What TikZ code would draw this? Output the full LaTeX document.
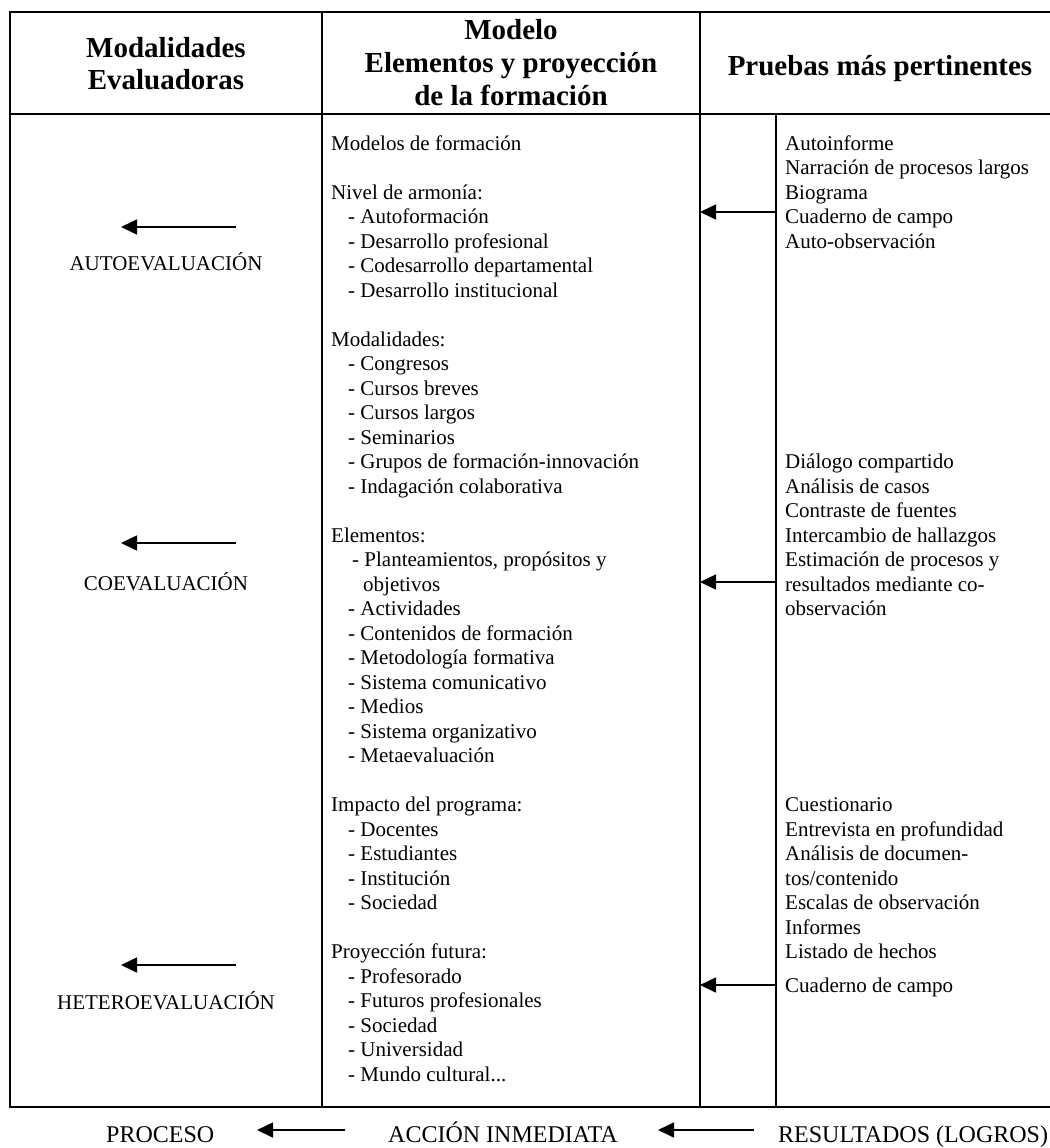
\documentclass[tikz,border=0pt]{standalone}
\usepackage{fontspec}
\setmainfont{Liberation Serif}
\usetikzlibrary{arrows.meta}
\begin{document}
\begin{tikzpicture}[x=1pt,y=-1pt]
\tikzset{
 tbl/.style={line width=2pt, line cap=rect},
 arr/.style={line width=1.6pt, -{Triangle[length=16pt,width=15pt]}},
 body/.style={font=\fontsize{21}{24.5}\selectfont, inner sep=0pt, anchor=base west},
 lbl/.style={font=\fontsize{21}{24.5}\selectfont, inner sep=0pt, anchor=base},
 hdr/.style={font=\fontsize{29}{32}\selectfont\bfseries, inner sep=0pt, anchor=base},
 foot/.style={font=\fontsize{24}{28}\selectfont, inner sep=0pt, anchor=base west}
}
\useasboundingbox (0,0) rectangle (1049,1148);
\fill[white] (0,0) rectangle (1049,1148);

% table lines
\draw[tbl] (10,12) -- (1049,12);
\draw[tbl] (10,114) -- (1049,114);
\draw[tbl] (10,1107) -- (1049,1107);
\draw[tbl] (10,12) -- (10,1107);
\draw[tbl] (322,12) -- (322,1107);
\draw[tbl] (700,12) -- (700,1107);
\draw[tbl] (776,114) -- (776,1107);

% headers
\node[hdr] (h1a) at (166,57) {Modalidades};
\node[hdr] (h1b) at (166,89) {Evaluadoras};
\node[hdr] (h2a) at (511,40) {Modelo};
\node[hdr] (h2b) at (511,72) {Elementos y proyección};
\node[hdr] (h2c) at (511,105) {de la formación};
\node[hdr] (h3a) at (880,75) {Pruebas más pertinentes};

% left column
\node[lbl] (auto) at (166,270) {AUTOEVALUACIÓN};
\node[lbl] (coev) at (166,590) {COEVALUACIÓN};
\node[lbl] (hetero) at (166,1009) {HETEROEVALUACIÓN};
\coordinate (la1s) at (236,227); \coordinate (la1e) at (121,227);
\coordinate (la2s) at (236,543); \coordinate (la2e) at (121,543);
\coordinate (la3s) at (236,965); \coordinate (la3e) at (121,965);
\draw[arr] (la1s) -- (la1e);
\draw[arr] (la2s) -- (la2e);
\draw[arr] (la3s) -- (la3e);

% middle column
\foreach \k/\x/\t [count=\i] in {
 0/331/{Modelos de formación},
 2/331/{Nivel de armonía:},
 3/348/{- Autoformación},
 4/348/{- Desarrollo profesional},
 5/348/{- Codesarrollo departamental},
 6/348/{- Desarrollo institucional},
 8/331/{Modalidades:},
 9/348/{- Congresos},
 10/348/{- Cursos breves},
 11/348/{- Cursos largos},
 12/348/{- Seminarios},
 13/348/{- Grupos de formación-innovación},
 14/348/{- Indagación colaborativa},
 16/331/{Elementos:},
 17/352/{- Planteamientos, propósitos y},
 18/363/{objetivos},
 19/348/{- Actividades},
 20/348/{- Contenidos de formación},
 21/348/{- Metodología formativa},
 22/348/{- Sistema comunicativo},
 23/348/{- Medios},
 24/348/{- Sistema organizativo},
 25/348/{- Metaevaluación},
 27/331/{Impacto del programa:},
 28/348/{- Docentes},
 29/348/{- Estudiantes},
 30/348/{- Institución},
 31/348/{- Sociedad},
 33/331/{Proyección futura:},
 34/348/{- Profesorado},
 35/348/{- Futuros profesionales},
 36/348/{- Sociedad},
 37/348/{- Universidad},
 38/348/{- Mundo cultural...}}
 {\node[body] (m\i) at (\x,{150+24.5*\k}) {\t};}

% right column
\foreach \k/\t [count=\i] in {
 0/{Autoinforme},
 1/{Narración de procesos largos},
 2/{Biograma},
 3/{Cuaderno de campo},
 4/{Auto-observación},
 13/{Diálogo compartido},
 14/{Análisis de casos},
 15/{Contraste de fuentes},
 16/{Intercambio de hallazgos},
 17/{Estimación de procesos y},
 18/{resultados mediante co-},
 19/{observación},
 27/{Cuestionario},
 28/{Entrevista en profundidad},
 29/{Análisis de documen-},
 30/{tos/contenido},
 31/{Escalas de observación},
 32/{Informes},
 33/{Listado de hechos}}
 {\node[body] (r\i) at (785,{150+24.5*\k}) {\t};}
\node[body] (rlast) at (785,992) {Cuaderno de campo};

\coordinate (ra1s) at (776,212); \coordinate (ra1e) at (700,212);
\coordinate (ra2s) at (776,582); \coordinate (ra2e) at (700,582);
\coordinate (ra3s) at (776,985); \coordinate (ra3e) at (700,985);
\draw[arr] (ra1s) -- (ra1e);
\draw[arr] (ra2s) -- (ra2e);
\draw[arr] (ra3s) -- (ra3e);

% footer
\node[foot] (proceso) at (106,1142) {PROCESO};
\node[foot] (accion) at (388,1142) {ACCIÓN INMEDIATA};
\node[foot] (result) at (778,1142) {RESULTADOS (LOGROS)};
\coordinate (fa1s) at (345,1130); \coordinate (fa1e) at (257,1130);
\coordinate (fa2s) at (754,1130); \coordinate (fa2e) at (658,1130);
\draw[arr] (fa1s) -- (fa1e);
\draw[arr] (fa2s) -- (fa2e);
\end{tikzpicture}
\end{document}
